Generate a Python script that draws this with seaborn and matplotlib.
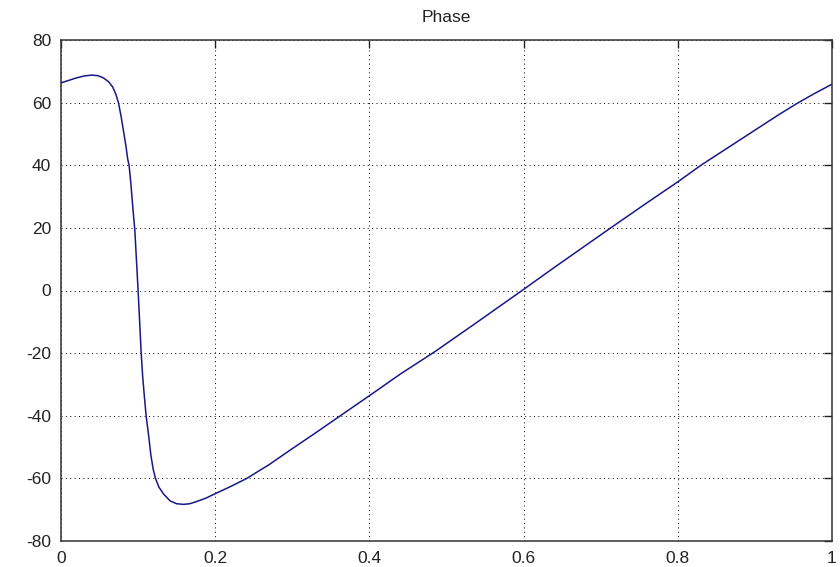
import matplotlib
matplotlib.use("Agg")
import matplotlib.pyplot as plt
import seaborn as sns
import pandas as pd

# Normalised frequency and phase (degrees)
freq = [0.000, 0.010, 0.020, 0.030, 0.040, 0.048, 0.055, 0.062, 0.067, 0.071,
        0.0745, 0.078, 0.081, 0.084, 0.0865, 0.0883, 0.0905, 0.0925, 0.0942, 0.0957,
        0.0978, 0.1000, 0.1020, 0.1039, 0.1058, 0.1080, 0.1104, 0.1140, 0.1165, 0.1195,
        0.1225, 0.127, 0.133, 0.1415, 0.150, 0.159, 0.167, 0.176, 0.188, 0.200,
        0.220, 0.241, 0.270, 0.297, 0.330, 0.3623, 0.400, 0.440, 0.4857, 0.541,
        0.598, 0.640, 0.680, 0.713, 0.760, 0.800, 0.830, 0.870, 0.900, 0.930,
        0.953, 0.975, 1.000]
phase = [66.3, 67.1, 67.9, 68.5, 68.8, 68.6, 67.9, 66.6, 65.0, 62.8,
         60.0, 55.5, 51.0, 46.5, 42.0, 40.0, 34.5, 28.5, 23.5, 19.5,
         10.0, 0.0, -10.0, -19.5, -27.0, -33.5, -40.0, -47.0, -52.5, -57.0,
         -60.0, -62.8, -65.0, -67.2, -68.1, -68.3, -68.1, -67.4, -66.3, -64.9,
         -62.6, -60.0, -55.6, -51.0, -45.5, -40.0, -33.6, -26.7, -19.4, -9.9,
         0.0, 7.4, 14.3, 20.0, 28.0, 34.7, 40.0, 46.4, 51.2, 56.0,
         59.5, 62.6, 65.9]

xticks = [0, 0.2, 0.4, 0.6, 0.8, 1]
xtick_labels = ["0", "0.2", "0.4", "0.6", "0.8", "1"]
yticks = [-80, -60, -40, -20, 0, 20, 40, 60, 80]
ytick_labels = ["-80", "-60", "-40", "-20", "0", "20", "40", "60", "80"]

df = pd.DataFrame({"freq": freq, "phase": phase})

sns.set_style("white")
plt.rcParams["font.family"] = ["Liberation Sans", "DejaVu Sans"]

fig = plt.figure(figsize=(8.4, 5.67), dpi=100)
ax = fig.add_axes([61 / 840, 26 / 567, 771 / 840, 501 / 567])

sns.lineplot(data=df, x="freq", y="phase", ax=ax, color="#18188a",
             linewidth=1.1, sort=False, estimator=None)

ax.set_xlim(0, 1)
ax.set_ylim(-80, 80)
ax.set_xticks(xticks)
ax.set_xticklabels(xtick_labels)
ax.set_yticks(yticks)
ax.set_yticklabels(ytick_labels)
ax.set_xlabel("")
ax.set_ylabel("")
ax.set_title("Phase", fontsize=12.5, pad=13, color="#222222")

ax.grid(True, color="black", linestyle=(0, (1, 3.5)), linewidth=0.7)
ax.tick_params(direction="in", length=6, width=1, colors="#222222",
               labelsize=12.5, top=True, right=True, pad=7)
for s in ax.spines.values():
    s.set_visible(True)
    s.set_color("#333333")
    s.set_linewidth(1.1)

fig.savefig("out.png", dpi=100, facecolor="white")
